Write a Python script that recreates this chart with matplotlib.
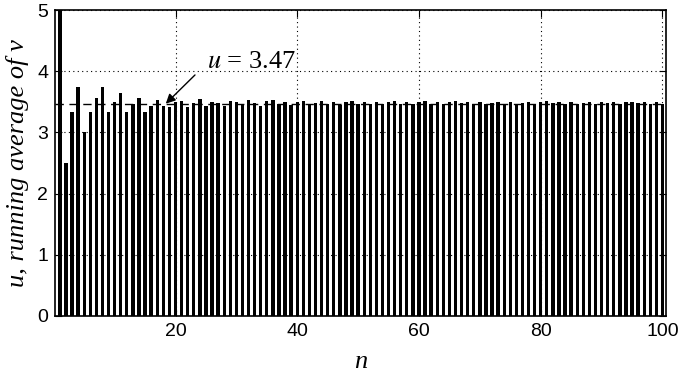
import matplotlib.pyplot as plt

plt.rcParams['mathtext.fontset'] = 'stix'

# running average u of v, n = 1..100
n = list(range(1, 101))
u = [5.00, 2.50, 3.33, 3.75, 3.00, 3.33, 3.57, 3.75, 3.33, 3.50,
     3.64, 3.33, 3.46, 3.57, 3.33, 3.44, 3.53, 3.44, 3.42, 3.50,
     3.52, 3.41, 3.48, 3.54, 3.44, 3.50, 3.48, 3.43, 3.52, 3.50,
     3.45, 3.53, 3.48, 3.44, 3.51, 3.53, 3.46, 3.50, 3.45, 3.49,
     3.52, 3.45, 3.48, 3.52, 3.47, 3.50, 3.45, 3.49, 3.51, 3.46,
     3.49, 3.47, 3.50, 3.46, 3.49, 3.51, 3.47, 3.50, 3.46, 3.49,
     3.51, 3.47, 3.49, 3.46, 3.49, 3.51, 3.48, 3.50, 3.47, 3.49,
     3.46, 3.48, 3.50, 3.47, 3.49, 3.46, 3.48, 3.50, 3.47, 3.49,
     3.51, 3.48, 3.50, 3.47, 3.49, 3.46, 3.48, 3.50, 3.47, 3.49,
     3.48, 3.50, 3.47, 3.49, 3.50, 3.48, 3.50, 3.47, 3.49, 3.47]
u_final = 3.47
xticks = [20, 40, 60, 80, 100]
yticks = [0, 1, 2, 3, 4, 5]

fig = plt.figure(figsize=(6.79, 3.76), dpi=100)
ax = fig.add_axes([0.081, 0.160, 0.900, 0.813])

ax.bar(n, u, width=0.55, color='black', zorder=3)
ax.axhline(u_final, color='black', linestyle=(0, (6, 4)), linewidth=1.0, zorder=2)

ax.set_xlim(0.2, 100.6)
ax.set_ylim(0, 5)
ax.set_xticks(xticks)
ax.set_yticks(yticks)
ax.grid(True, color='black', linestyle=(0, (1, 3)), linewidth=0.8, zorder=0)
ax.set_axisbelow(True)
ax.tick_params(direction='in', length=5, labelsize=14, top=True, right=True,
               pad=5)
for lab in ax.get_xticklabels() + ax.get_yticklabels():
    lab.set_family(['Liberation Sans', 'DejaVu Sans'])
for sp in ax.spines.values():
    sp.set_linewidth(1.2)

# label and arrow pointing at the settled average
ax.text(25.2, 4.15, r'$u$ = %.2f' % u_final, fontsize=19,
        family='Liberation Serif', va='center', ha='left', zorder=5)
ax.annotate('', xy=(18.4, u_final), xytext=(23.2, 3.94),
            arrowprops=dict(arrowstyle='-|>', color='black', lw=1.0,
                            shrinkA=0, shrinkB=0, mutation_scale=14))

serif_it = dict(family='Liberation Serif', style='italic', fontsize=19)
ax.set_xlabel('n', labelpad=8, **serif_it)
ax.set_ylabel('u, running average of v', labelpad=6, **serif_it)

fig.savefig('out.png', dpi=100)
